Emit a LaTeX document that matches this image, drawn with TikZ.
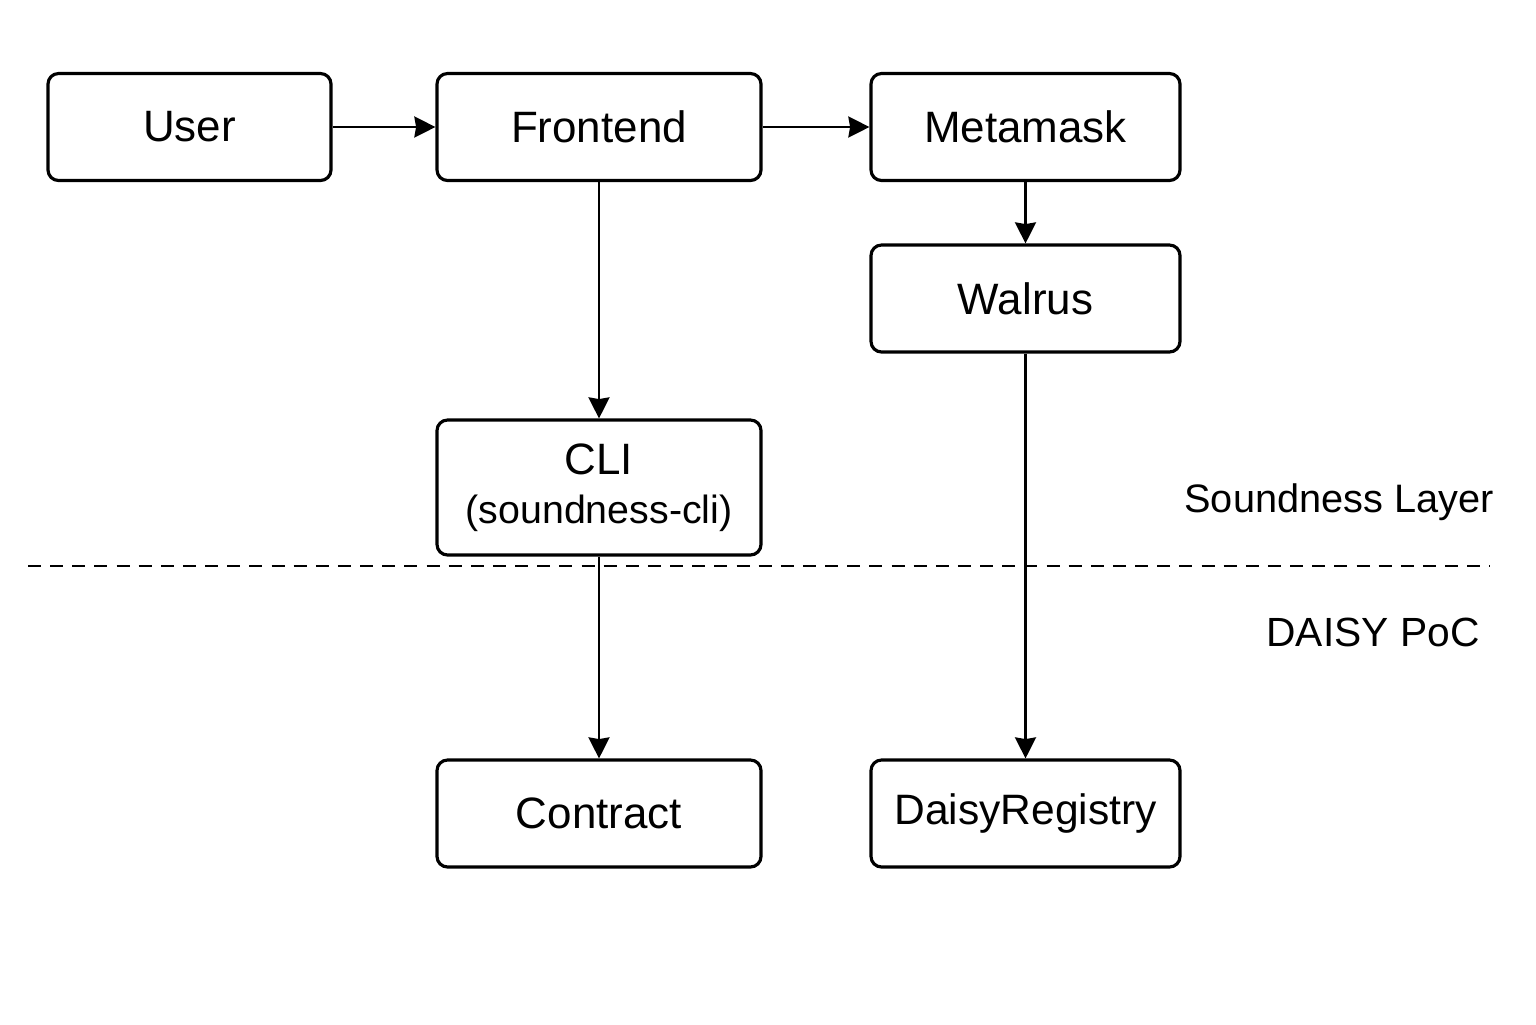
\documentclass[tikz,border=0pt]{standalone}
\usepackage{fontspec}
\setmainfont{Liberation Sans}
\usetikzlibrary{arrows.meta}
\tikzset{ box_style/.style = { rectangle % component
        , draw
        , line width = 0.9pt
        , rounded corners = 3pt
        , minimum height = 1.07cm
        , align = center
        , font = \fontsize{12.5}{15}\selectfont
        }
        , edge_style/.style = { draw = black % call
        , line width = 0.6pt
        , -{Stealth[length=6pt,width=6pt,inset=0.5pt]}
        }
        , layer_style/.style = { rectangle % layer label
        , inner sep = 0pt
        , font = \fontsize{11.3}{13}\selectfont
        }
        }

\begin{document}
\begin{tikzpicture}
        \useasboundingbox (0,0) rectangle (15.36,-10.24);

        \node [box_style, minimum width=2.83cm](n_user) at (1.895,-1.27) {User};
        \node [box_style, minimum width=3.24cm](n_front) at (5.99,-1.27) {Frontend};
        \node [box_style, minimum width=3.09cm](n_meta) at (10.255,-1.27) {Metamask};
        \node [box_style, minimum width=3.09cm](n_walrus) at (10.255,-2.985) {Walrus};
        \node [box_style, minimum width=3.24cm, minimum height=1.35cm, font=\fontsize{11.2}{13.9}\selectfont](n_cli) at (5.99,-4.875) {{\fontsize{12.5}{13.9}\selectfont CLI}\\(soundness-cli)};
        \node [box_style, minimum width=3.24cm](n_contract) at (5.99,-8.135) {Contract};
        \node [box_style, minimum width=3.09cm, font=\fontsize{12.1}{15}\selectfont](n_daisy) at (10.255,-8.135) {DaisyRegistry};

        \node [layer_style](l_sound) at (13.39,-5.02) {Soundness Layer};
        \node [layer_style, font=\fontsize{11.6}{13}\selectfont](l_daisy) at (13.73,-6.32) {DAISY PoC};

        \coordinate (sep_l) at (0.28,-5.66);
        \coordinate (sep_r) at (14.9,-5.66);
        \draw [line width=0.6pt, dash pattern=on 3.7pt off 2.6pt] (sep_l) -- (sep_r);

        \draw [edge_style] (n_user) -- (n_front);
        \draw [edge_style] (n_front) -- (n_meta);
        \draw [edge_style] (n_meta) -- (n_walrus);
        \draw [edge_style] (n_front) -- (n_cli);
        \draw [edge_style] (n_cli) -- (n_contract);
        \draw [edge_style] (n_walrus) -- (n_daisy);
\end{tikzpicture}
\end{document}
